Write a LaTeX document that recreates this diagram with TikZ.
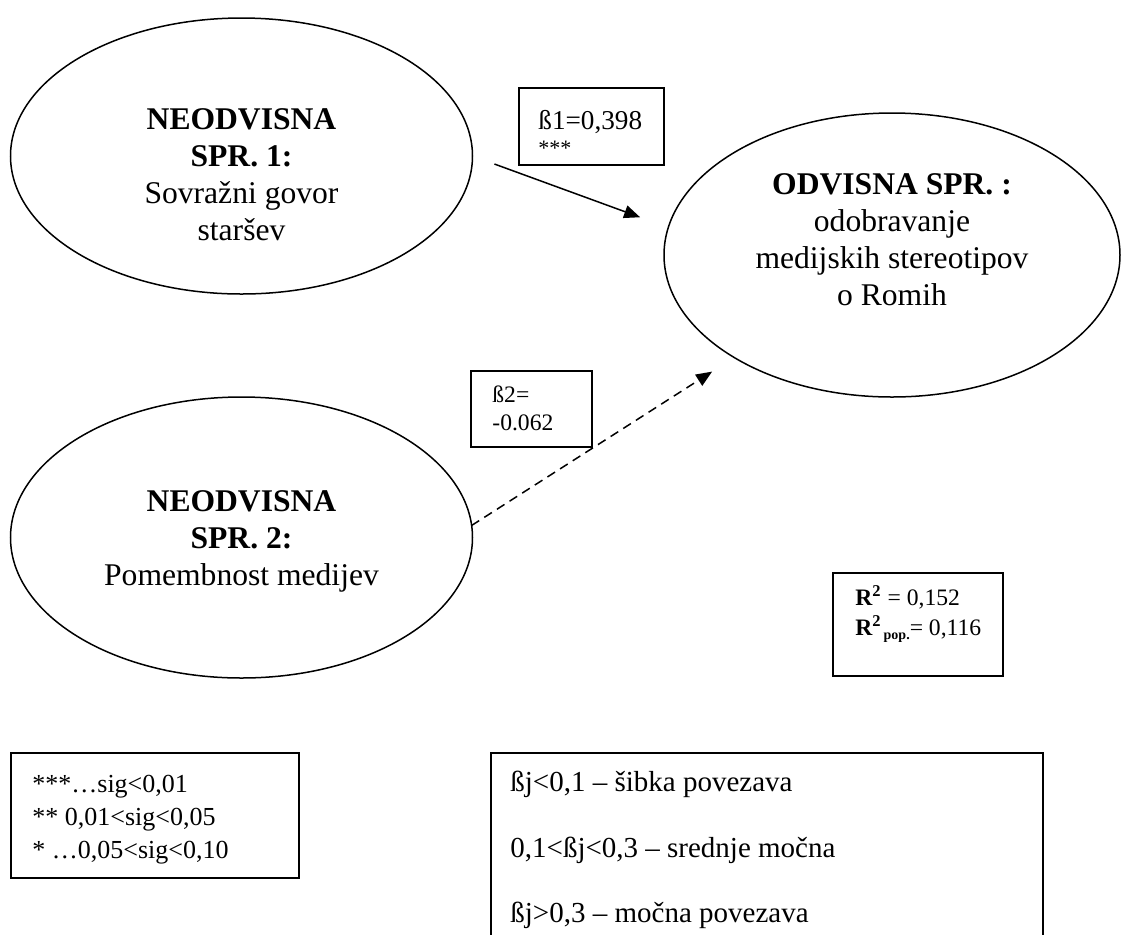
\documentclass[tikz,border=0pt]{standalone}
\usepackage{fontspec}
\setmainfont{Liberation Serif}
\usetikzlibrary{positioning}
\usetikzlibrary{arrows.meta}
\usetikzlibrary{shapes.geometric}

\tikzset{
  oval/.style={draw, ellipse, line width=0.75pt, inner sep=0pt, outer sep=0pt},
  ovaltext/.style={align=center, font=\fontsize{15.8}{18.5}\selectfont},
  box/.style={draw, rectangle, line width=0.75pt, inner sep=0pt, outer sep=0pt, anchor=north west},
  arr/.style={-{Triangle[length=8pt,width=6.5pt]}, line width=0.75pt},
  valtext/.style={anchor=base west, inner sep=0pt},
}

\begin{document}
\begin{tikzpicture}[x=0.5pt, y=-0.5pt]
  \useasboundingbox (0,0) rectangle (1121,934);
  \clip (0,0) rectangle (1121,934);

  % variables
  \node[oval, minimum width=231pt, minimum height=138pt] (neo1) at (241.5,156) {};
  \node[ovaltext] (neo1txt) at (241.5,175) {\textbf{NEODVISNA}\\\textbf{SPR. 1:}\\Sovražni govor\\staršev};
  \node[oval, minimum width=231pt, minimum height=140.5pt] (neo2) at (241.5,537.5) {};
  \node[ovaltext] (neo2txt) at (241.5,541) {\textbf{NEODVISNA}\\\textbf{SPR. 2:}\\Pomembnost medijev};
  \node[oval, minimum width=228pt, minimum height=142pt] (odv) at (892,255) {};
  \node[ovaltext] (odvtxt) at (892,240) {\textbf{ODVISNA SPR.} \textbf{:}\\odobravanje\\medijskih stereotipov\\o Romih};

  % connectors
  \draw[arr, shorten <=11.7pt, shorten >=15pt] (neo1.east) -- (odv.173);
  \draw[arr, dash pattern=on 4.5pt off 3pt, shorten >=13.1pt] (neo2.3.6) -- (odv.213.3);

  % coefficients
  \node[box, minimum width=72.5pt, minimum height=38.5pt] (beta1) at (519,88) {};
  \node[valtext, font=\fontsize{13.6}{14}\selectfont] (beta1val) at (538,129) {ß1=0,398};
  \node[valtext, font=\fontsize{11}{12}\selectfont] (beta1sig) at (538,155) {***};
  \node[box, minimum width=60.5pt, minimum height=38pt] (beta2) at (471,371) {};
  \node[valtext, font=\fontsize{11.8}{12}\selectfont] (beta2a) at (492,402) {ß2=};
  \node[valtext, font=\fontsize{11.8}{12}\selectfont] (beta2b) at (492,430) {-0.062};

  % R squared
  \node[box, minimum width=85pt, minimum height=51.5pt] (rsq) at (833,573) {};
  \node[valtext, font=\fontsize{11.8}{12}\selectfont] (rsq1) at (855,605) {\textbf{R\textsuperscript{2}} = 0,152};
  \node[valtext, font=\fontsize{11.8}{12}\selectfont] (rsq2) at (855,635) {\textbf{R\textsuperscript{2}}\kern1pt\raisebox{-2pt}{\fontsize{7}{7}\selectfont\bfseries pop.}= 0,116};

  % legends
  \node[box, minimum width=144pt, minimum height=62.5pt] (sigleg) at (11,753) {};
  \foreach \txt [count=\i] in {{***…sig<0,01},{** 0,01<sig<0,05},{* …0,05<sig<0,10}} {
    \node[valtext, font=\fontsize{13}{14}\selectfont] (sig\i) at (32,759+33*\i) {\txt};
  }
  \node[box, minimum width=276pt, minimum height=100pt] (strleg) at (491,753) {};
  \foreach \txt [count=\i] in {{ßj<0,1 – šibka povezava},{0,1<ßj<0,3 – srednje močna},{ßj>0,3 – močna povezava}} {
    \node[valtext, font=\fontsize{14.5}{15}\selectfont] (str\i) at (510,726+65.5*\i) {\txt};
  }
\end{tikzpicture}
\end{document}
